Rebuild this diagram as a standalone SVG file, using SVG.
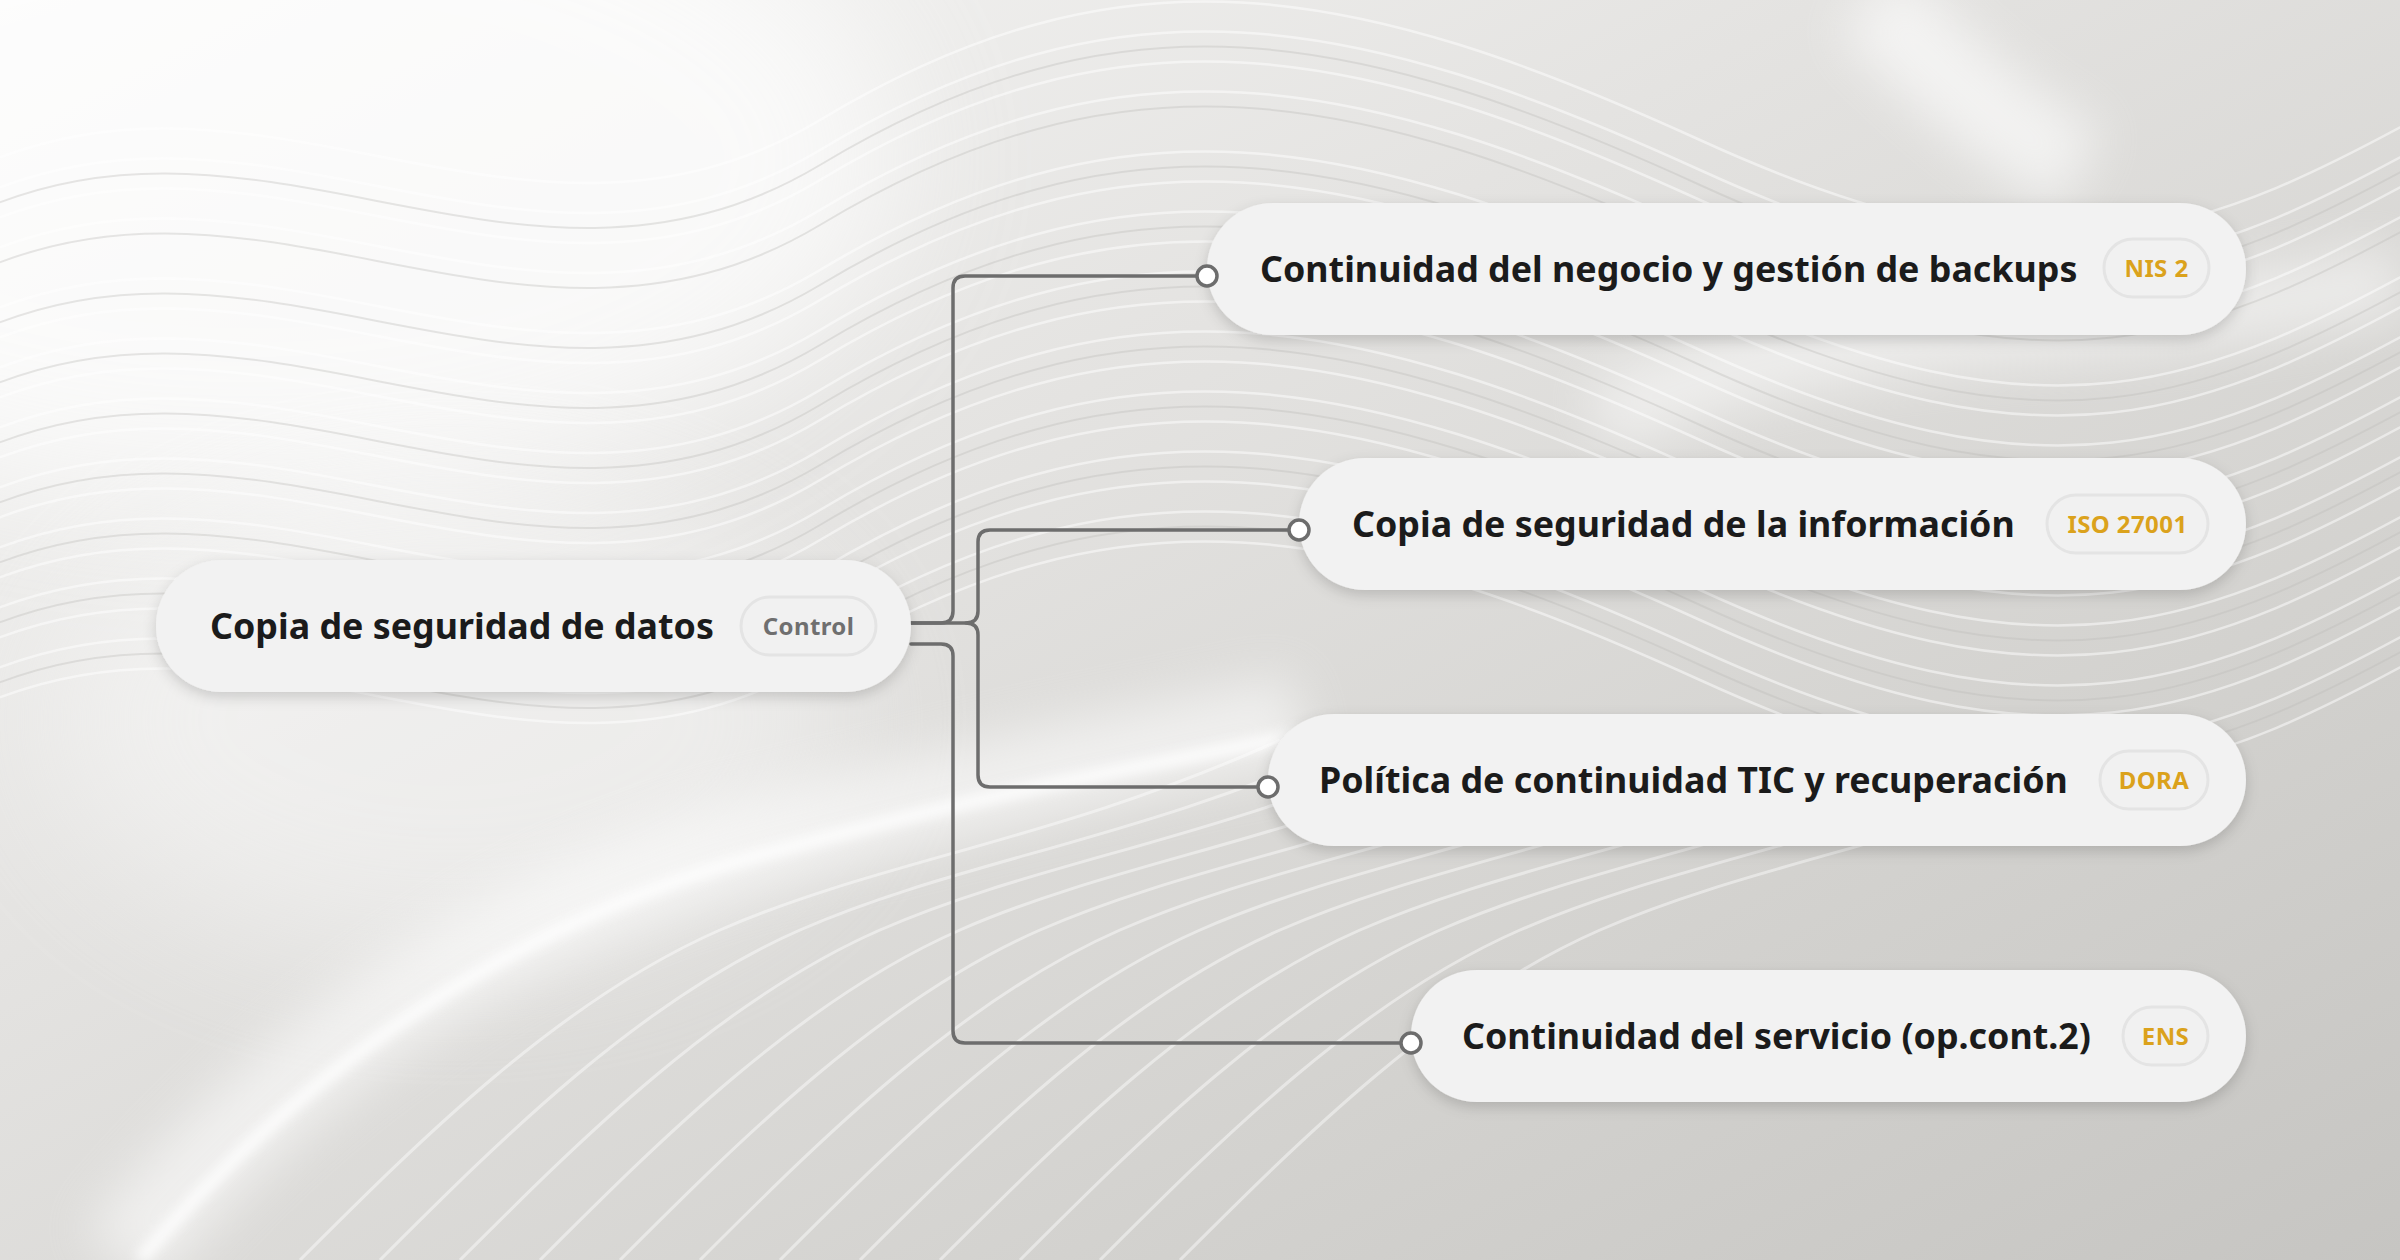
<svg xmlns="http://www.w3.org/2000/svg" xmlns:xlink="http://www.w3.org/1999/xlink" width="2400" height="1260" viewBox="0 0 2400 1260">
<style>
.node{fill:#f2f2f2;filter:url(#shadow);}
.label{font-family:"Noto Sans","Open Sans","Liberation Sans",sans-serif;font-weight:700;font-size:35.8px;fill:#1b1b1b;}
.badge{fill:#f1f1f1;stroke:#e4e4e4;stroke-width:3;}
.btext{font-family:"Noto Sans","Open Sans","Liberation Sans",sans-serif;font-weight:700;font-size:24px;fill:#dba21c;text-anchor:middle;letter-spacing:0.4px;}
.ctrl{fill:#6f6f6f;}
.conn{fill:none;stroke:#6d6d6d;stroke-width:3.5;stroke-linecap:round;stroke-linejoin:round;}
.dot{fill:#ffffff;stroke:#6d6d6d;stroke-width:3.5;}
.wave{fill:none;stroke:#ffffff;stroke-width:2.5;opacity:0.5;}
.waveD{fill:none;stroke:#bdbcb9;stroke-width:2;opacity:0.35;}
.wave2{fill:none;stroke:#ffffff;stroke-width:3;opacity:0.45;}
</style>
<defs>
<linearGradient id="bg" x1="0" y1="0" x2="1" y2="1">
<stop offset="0" stop-color="#f8f8f7"/>
<stop offset="0.38" stop-color="#e4e3e1"/>
<stop offset="0.72" stop-color="#d3d2cf"/>
<stop offset="1" stop-color="#c6c5c2"/>
</linearGradient>
<filter id="blurL" x="-50%" y="-50%" width="200%" height="200%"><feGaussianBlur stdDeviation="70"/></filter>
<filter id="blurM" x="-50%" y="-50%" width="200%" height="200%"><feGaussianBlur stdDeviation="25"/></filter>
<filter id="blurS" x="-20%" y="-20%" width="140%" height="140%"><feGaussianBlur stdDeviation="6"/></filter>
<filter id="shadow" x="-10%" y="-30%" width="120%" height="170%"><feDropShadow dx="0" dy="5" stdDeviation="7" flood-color="#000000" flood-opacity="0.16"/></filter>
<path id="w1" d="M-50,0 C250,-160 520,120 820,-60 S1350,-200 1700,-40 S2200,60 2450,-80"/>
<path id="w2" d="M0,0 C120,-120 260,-260 420,-330 S760,-420 980,-520"/>
</defs>
<g id="background">
<rect x="0" y="0" width="2400" height="1260" fill="url(#bg)"/>
<ellipse cx="250" cy="160" rx="650" ry="340" fill="#ffffff" opacity="0.7" filter="url(#blurL)"/>
<ellipse cx="450" cy="720" rx="400" ry="240" fill="#ffffff" opacity="0.4" filter="url(#blurL)"/>
<path d="M120,1260 C300,1040 520,900 760,840 S1100,760 1300,720" fill="none" stroke="#ffffff" stroke-width="90" opacity="0.55" filter="url(#blurM)"/>
<path d="M140,1260 C310,1060 520,920 760,855 S1100,775 1300,735" fill="none" stroke="#ffffff" stroke-width="14" opacity="0.8" filter="url(#blurS)"/>
<path d="M1870,0 C1930,60 1990,120 2080,170" fill="none" stroke="#ffffff" stroke-width="90" opacity="0.6" filter="url(#blurM)"/>
<path d="M1600,420 C1720,360 1850,340 2000,330 S2300,300 2400,280" fill="none" stroke="#ffffff" stroke-width="70" opacity="0.5" filter="url(#blurM)"/>
<g class="waveD">
<use xlink:href="#w1" y="345"/>
<use xlink:href="#w1" y="405"/>
<use xlink:href="#w1" y="465"/>
<use xlink:href="#w1" y="525"/>
<use xlink:href="#w1" y="585"/>
<use xlink:href="#w1" y="645"/>
<use xlink:href="#w1" y="705"/>
<use xlink:href="#w1" y="225"/>
<use xlink:href="#w1" y="285"/>
</g>
<g class="wave">
<use xlink:href="#w1" y="330"/>
<use xlink:href="#w1" y="360"/>
<use xlink:href="#w1" y="390"/>
<use xlink:href="#w1" y="420"/>
<use xlink:href="#w1" y="450"/>
<use xlink:href="#w1" y="480"/>
<use xlink:href="#w1" y="510"/>
<use xlink:href="#w1" y="540"/>
<use xlink:href="#w1" y="570"/>
<use xlink:href="#w1" y="600"/>
<use xlink:href="#w1" y="630"/>
<use xlink:href="#w1" y="660"/>
<use xlink:href="#w1" y="690"/>
<use xlink:href="#w1" y="720"/>
<use xlink:href="#w1" y="180"/>
<use xlink:href="#w1" y="210"/>
<use xlink:href="#w1" y="240"/>
<use xlink:href="#w1" y="270"/>
</g>
<g class="wave2">
<use xlink:href="#w2" x="300" y="1260"/>
<use xlink:href="#w2" x="380" y="1260"/>
<use xlink:href="#w2" x="460" y="1260"/>
<use xlink:href="#w2" x="540" y="1260"/>
<use xlink:href="#w2" x="620" y="1260"/>
<use xlink:href="#w2" x="700" y="1260"/>
<use xlink:href="#w2" x="780" y="1260"/>
<use xlink:href="#w2" x="860" y="1260"/>
<use xlink:href="#w2" x="940" y="1260"/>
<use xlink:href="#w2" x="1020" y="1260"/>
<use xlink:href="#w2" x="1100" y="1260"/>
<use xlink:href="#w2" x="1180" y="1260"/>
</g>
</g>
<g id="connectors">
<path class="conn" d="M911,623 H941 Q953,623 953,611 V288 Q953,276 965,276 H1197"/>
<path class="conn" d="M911,623 H966 Q978,623 978,611 V542 Q978,530 990,530 H1289"/>
<path class="conn" d="M966,623 Q978,623 978,635 V775 Q978,787 990,787 H1258"/>
<path class="conn" d="M911,644 H941 Q953,644 953,656 V1031 Q953,1043 965,1043 H1401"/>
</g>
<g id="node-root">
<rect class="node" x="156" y="560" width="755" height="132" rx="66"/>
<text class="label" x="210" y="639">Copia de seguridad de datos</text>
<rect class="badge" x="741" y="597" width="135" height="58" rx="29"/>
<text class="btext ctrl" x="808.5" y="634.5">Control</text>
</g>
<g id="node-nis2">
<rect class="node" x="1207" y="203" width="1039" height="132" rx="66"/>
<circle class="dot" cx="1207" cy="276" r="10"/>
<text class="label" x="1260" y="282">Continuidad del negocio y gestión de backups</text>
<rect class="badge" x="2104" y="239" width="105" height="58" rx="29"/>
<text class="btext" x="2156.5" y="276.5">NIS 2</text>
</g>
<g id="node-iso">
<rect class="node" x="1299" y="458" width="947" height="132" rx="66"/>
<circle class="dot" cx="1299" cy="530" r="10"/>
<text class="label" x="1352" y="537">Copia de seguridad de la información</text>
<rect class="badge" x="2047" y="495" width="161" height="58" rx="29"/>
<text class="btext" x="2127.5" y="532.5">ISO 27001</text>
</g>
<g id="node-dora">
<rect class="node" x="1268" y="714" width="978" height="132" rx="66"/>
<circle class="dot" cx="1268" cy="787" r="10"/>
<text class="label" x="1319" y="793">Política de continuidad TIC y recuperación</text>
<rect class="badge" x="2100" y="751" width="108" height="58" rx="29"/>
<text class="btext" x="2154" y="788.5">DORA</text>
</g>
<g id="node-ens">
<rect class="node" x="1411" y="970" width="835" height="132" rx="66"/>
<circle class="dot" cx="1411" cy="1043" r="10"/>
<text class="label" x="1462" y="1049">Continuidad del servicio (op.cont.2)</text>
<rect class="badge" x="2123" y="1007" width="85" height="58" rx="29"/>
<text class="btext" x="2165.5" y="1044.5">ENS</text>
</g>
</svg>
